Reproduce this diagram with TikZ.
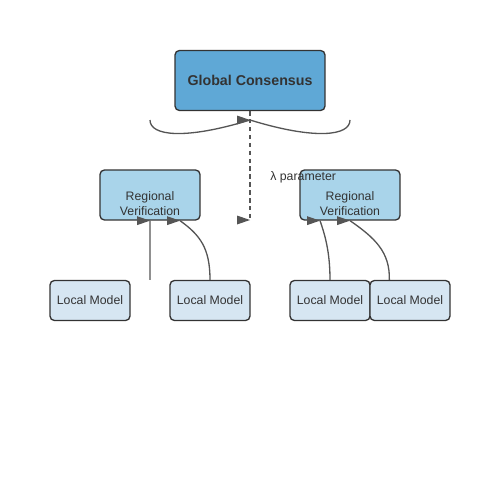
\documentclass[tikz,border=0pt]{standalone}
\usepackage{fontspec}
\setmainfont{Liberation Sans}
\usetikzlibrary{calc}
\definecolor{gfill}{RGB}{95,168,214}
\definecolor{rfill}{RGB}{169,212,234}
\definecolor{lfill}{RGB}{214,230,242}
\definecolor{edgec}{RGB}{51,51,51}
\definecolor{linec}{RGB}{85,85,85}
\tikzset{
  gbox/.style={draw=edgec, line width=0.75pt, fill=gfill, rounded corners=2.5pt,
    minimum width=3cm, minimum height=1.2cm, text=edgec,
    font=\fontsize{8.1pt}{9pt}\selectfont\bfseries},
  rbox/.style={draw=edgec, line width=0.75pt, fill=rfill, rounded corners=2.5pt,
    minimum width=2cm, minimum height=1cm},
  lbox/.style={draw=edgec, line width=0.75pt, fill=lfill, rounded corners=2.5pt,
    minimum width=1.6cm, minimum height=0.8cm, text=edgec,
    font=\fontsize{7pt}{8pt}\selectfont},
  rtext/.style={align=center, text=edgec, inner sep=0pt,
    font=\fontsize{7pt}{8.5pt}\selectfont},
  link/.style={draw=linec, line width=0.75pt},
}
\newcommand{\rtip}[1]{\fill[linec] (#1) -- ++(-13,-4.5) -- ++(0,9) -- cycle;}
\begin{document}
\begin{tikzpicture}[x=0.02cm, y=-0.02cm]
\useasboundingbox (0,0) rectangle (500,500);
% top
\node[gbox] (gc) at (250,80.5) {Global Consensus};
\coordinate (bl) at (150,120);
\coordinate (bm) at (250,120);
\coordinate (br) at (350,120);
\draw[link] (bl) .. controls (150,136) and (185,140) .. (bm);
\draw[link] (bm) .. controls (315,140) and (350,136) .. (br);
\rtip{bm}
% regional boxes
\node[rbox] (rvl) at (150,195) {};
\node[rbox] (rvr) at (350,195) {};
\node[rtext] (rvltext) at (150,204) {Regional\\Verification};
\node[rtext] (rvrtext) at (350,204) {Regional\\Verification};
\coordinate (lam) at (250,220);
\draw[link, dash pattern=on 2.5pt off 2pt] (gc.south) -- (lam);
\rtip{lam}
\node[anchor=west, inner sep=0pt, text=edgec, font=\fontsize{7pt}{8pt}\selectfont] (lamtext) at (270,177) {λ parameter};
% local models
\node[lbox] (lm1) at (90,300.5) {Local Model};
\node[lbox] (lm2) at (210,300.5) {Local Model};
\node[lbox] (lm3) at (330,300.5) {Local Model};
\node[lbox] (lm4) at (410,300.5) {Local Model};
\coordinate (s1) at ($(lm1.north east)!0.5!(lm2.north west)$);
\coordinate (s4) at ([xshift=20*0.02cm]lm4.north west);
\coordinate (e2) at ([xshift=30*0.02cm]rvl.south);
\coordinate (e3) at ([xshift=-30*0.02cm]rvr.south);
\draw[link] (s1) -- (rvl.south);
\draw[link] (lm2.north) .. controls (210,248) and (200,235) .. (e2);
\draw[link] (lm3.north) .. controls (330,252) and (325,235) .. (e3);
\draw[link] (s4) .. controls (390,252) and (375,238) .. (rvr.south);
\rtip{rvl.south}
\rtip{e2}
\rtip{e3}
\rtip{rvr.south}
\end{tikzpicture}
\end{document}
